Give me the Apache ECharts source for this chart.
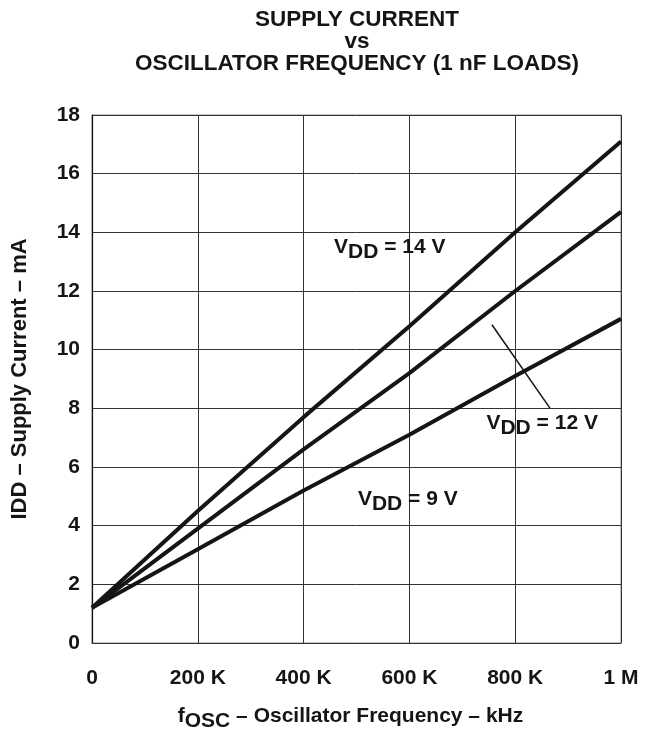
<!DOCTYPE html>
<html>
<head>
<meta charset="utf-8">
<script src="https://cdn.jsdelivr.net/npm/echarts@6/dist/echarts.min.js"></script>
<style>
  html, body { margin: 0; padding: 0; background: #fff; }
  #chart { width: 645px; height: 729px; }
</style>
</head>
<body>
<div id="chart"></div>
<script>
// frequency in kHz
var freq = [0, 200, 400, 600, 800, 1000];
// supply current (mA) per VDD
var idd14 = [1.2, 4.5, 7.7, 10.8, 14.0, 17.1];
var idd12 = [1.2, 3.9, 6.6, 9.2, 12.0, 14.7];
var idd9 = [1.2, 3.2, 5.2, 7.1, 9.1, 11.05];
var xTickLabels = ['0', '200 K', '400 K', '600 K', '800 K', '1 M'];

// label anchors (data coords) and callout for 12 V
var lbl14 = [563, 13.4];
var lbl12 = [851, 7.42];
var lbl9 = [597, 4.82];
var callout12 = [[756, 10.85], [866, 8.0]];

var FONT = 'Liberation Sans, Arial, sans-serif';
var INK = '#151515';

function pairs(ys) {
	var out = [];
	for (var i = 0; i < freq.length; i++) out.push([freq[i], ys[i]]);
	return out;
}

// main text sits a few px higher than the subscript
function sub(size) {
	return {
		v: { fontSize: size, fontWeight: 'bold', fontFamily: FONT, color: INK, padding: [0, 0, 5, 0], verticalAlign: 'bottom' },
		s: { fontSize: size, fontWeight: 'bold', fontFamily: FONT, color: INK, verticalAlign: 'bottom' }
	};
}

function vddLabel(coord, volts) {
	return {
		symbol: 'circle',
		symbolSize: 0,
		data: [{
			coord: coord,
			label: {
				show: true,
				position: 'inside',
				formatter: '{v|V}{s|DD}{v| = ' + volts + ' V}',
				rich: sub(21)
			}
		}]
	};
}

function curve(name, ys, coord, volts) {
	return {
		name: name,
		type: 'line',
		data: pairs(ys),
		showSymbol: false,
		symbol: 'none',
		lineStyle: { color: INK, width: 4 },
		animation: false,
		markPoint: vddLabel(coord, volts)
	};
}

var chart = echarts.init(document.getElementById('chart'));

var s12 = curve('12 V', idd12, lbl12, 12);
s12.markLine = {
	silent: true,
	symbol: ['none', 'none'],
	label: { show: false },
	lineStyle: { color: INK, width: 1.5, type: 'solid' },
	data: [[{ coord: callout12[0] }, { coord: callout12[1] }]]
};

var option = {
	animation: false,
	backgroundColor: '#fff',
	title: {
		text: 'SUPPLY CURRENT\nvs\nOSCILLATOR FREQUENCY (1 nF LOADS)',
		left: 352,
		top: 4,
		textAlign: 'center',
		textStyle: { fontFamily: FONT, fontWeight: 'bold', fontSize: 22.5, color: INK, lineHeight: 22 }
	},
	grid: {
		left: 92, right: 24, top: 115, bottom: 86,
		outerBoundsMode: 'none',
		containLabel: false,
		show: true, borderColor: '#888', borderWidth: 1
	},
	xAxis: {
		type: 'value',
		min: 0, max: 1000, interval: 200,
		name: '{v|f}{s|OSC}{v| – Oscillator Frequency – kHz}',
		nameLocation: 'middle',
		nameGap: 63,
		nameTextStyle: { padding: [0, 12, 0, 0], rich: sub(21) },
		axisLine: { lineStyle: { color: '#333', width: 1 } },
		axisTick: { show: false },
		splitLine: { lineStyle: { color: '#333', width: 1 } },
		axisLabel: {
			margin: 25,
			fontFamily: FONT, fontWeight: 'bold', fontSize: 21, color: INK,
			formatter: function (v, i) { return xTickLabels[i]; }
		}
	},
	yAxis: {
		type: 'value',
		min: 0, max: 18, interval: 2,
		name: 'IDD – Supply Current – mA',
		nameLocation: 'middle',
		nameGap: 61,
		nameTextStyle: { fontFamily: FONT, fontWeight: 'bold', fontSize: 22, color: INK },
		axisLine: { show: true, lineStyle: { color: '#111', width: 1.2 } },
		axisTick: { show: false },
		splitLine: { lineStyle: { color: '#333', width: 1 } },
		axisLabel: { margin: 12, fontFamily: FONT, fontWeight: 'bold', fontSize: 21, color: INK }
	},
	series: [
		curve('14 V', idd14, lbl14, 14),
		s12,
		curve('9 V', idd9, lbl9, 9)
	]
};

chart.setOption(option);
</script>
</body>
</html>
